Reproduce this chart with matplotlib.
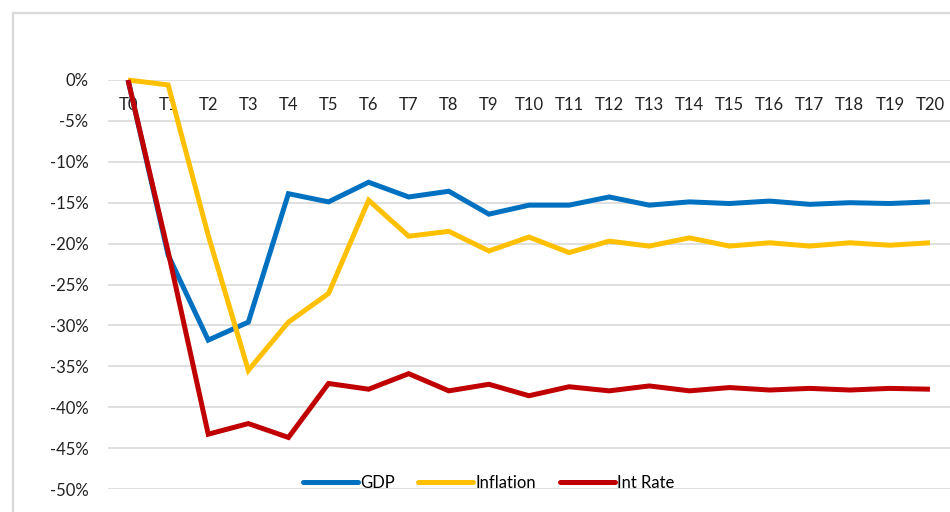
import numpy as np
import matplotlib
matplotlib.use("Agg")
import matplotlib.pyplot as plt
from matplotlib.lines import Line2D
from matplotlib.ticker import PercentFormatter

periods = ["T%d" % i for i in range(21)]

# responses in percent
gdp = [0.0, -21.4, -31.8, -29.6, -13.9, -14.9, -12.5, -14.3, -13.6, -16.4, -15.3,
       -15.3, -14.3, -15.3, -14.9, -15.1, -14.8, -15.2, -15.0, -15.1, -14.9]
inflation = [0.0, -0.6, -19.0, -35.5, -29.6, -26.1, -14.7, -19.1, -18.5, -20.9, -19.2,
             -21.1, -19.7, -20.3, -19.3, -20.3, -19.9, -20.3, -19.9, -20.2, -19.9]
int_rate = [0.0, -21.0, -43.3, -42.0, -43.7, -37.1, -37.8, -35.9, -38.0, -37.2, -38.6,
            -37.5, -38.0, -37.4, -38.0, -37.6, -37.9, -37.7, -37.9, -37.7, -37.8]

series = [("GDP", gdp, "#0070C0"),
          ("Inflation", inflation, "#FFC000"),
          ("Int Rate", int_rate, "#C00000")]

plt.rcParams['font.family'] = ['Lato', 'DejaVu Sans']
plt.rcParams['axes.unicode_minus'] = False
W, H = 950, 512
fig = plt.figure(figsize=(W / 100, H / 100), dpi=100)
fig.patch.set_facecolor("white")

# chart-area frame (only left and top edges are in view)
fig.add_artist(Line2D([13 / W, 13 / W], [0, 1 - 13 / H], transform=fig.transFigure,
                      color="#d9d9d9", lw=1.6))
fig.add_artist(Line2D([13 / W, 1], [1 - 13 / H, 1 - 13 / H], transform=fig.transFigure,
                      color="#d9d9d9", lw=1.6))

ax = fig.add_axes([108 / W, 1 - 489 / H, 1 - 108 / W, (489 - 80) / H])
x = np.arange(len(periods))

ax.set_ylim(-50, 0)
ax.set_xlim(-0.5, len(periods) - 0.5)
ax.set_yticks(np.arange(-50, 1, 5))
ax.yaxis.set_major_formatter(PercentFormatter(decimals=0))
ax.grid(axis="y", color="#d9d9d9", lw=1.2)
ax.set_axisbelow(True)
for s in ax.spines.values():
    s.set_visible(False)

ax.set_xticks(x)
ax.set_xticklabels(periods)
ax.tick_params(axis="x", length=0, pad=0, labelsize=12, labelcolor="#222222")
ax.tick_params(axis="y", length=0, pad=14, labelsize=12, labelcolor="#222222")
# category labels sit just under the zero line
ax.xaxis.set_ticks_position("top")
for lbl in ax.get_xticklabels():
    lbl.set_verticalalignment("top")
    lbl.set_y(1 - 17 / 409)

for name, vals, col in series:
    ax.plot(x, vals, color=col, lw=3.6, label=name, solid_joinstyle="miter",
            solid_capstyle="butt", clip_on=False)

leg = ax.legend(loc="center", bbox_to_anchor=(0.452, 0.014), ncol=3, frameon=False,
                fontsize=12, handlelength=3.3, handletextpad=0.15, columnspacing=1.4)
for h in leg.get_lines():
    h.set_solid_capstyle("round")

fig.savefig("out.png", dpi=100, facecolor="white")
